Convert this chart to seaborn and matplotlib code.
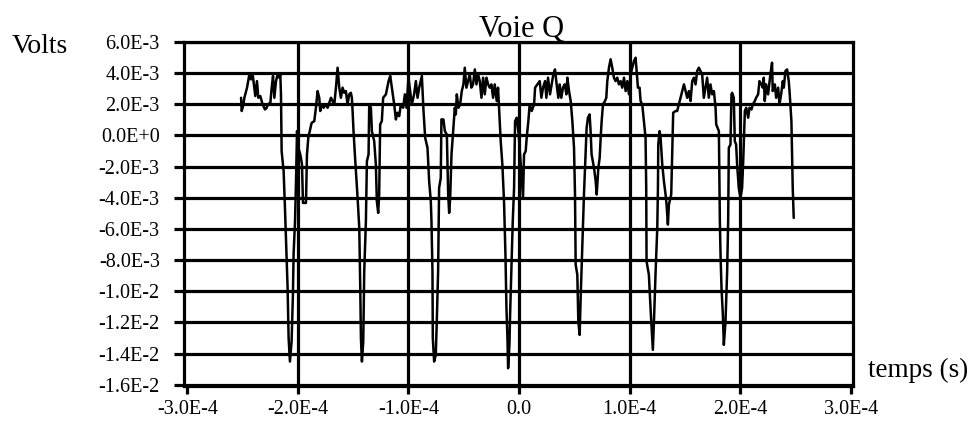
import numpy as np
import pandas as pd
import matplotlib
matplotlib.use("Agg")
import matplotlib.pyplot as plt
import seaborn as sns

# Signal: (time in 1e-4 s, voltage in 1e-3 V)
burst_1 = [(-2.514, 2.42), (-2.508, 1.57), (-2.493, 1.99), (-2.484, 2.42), (-2.460, 3.07), (-2.439, 3.92),
           (-2.424, 3.60), (-2.409, 3.92), (-2.394, 3.07), (-2.385, 2.53), (-2.370, 3.49), (-2.358, 2.42),
           (-2.340, 2.53), (-2.319, 1.99), (-2.298, 1.67), (-2.282, 1.78), (-2.273, 1.99), (-2.249, 2.10),
           (-2.237, 3.07), (-2.225, 3.82), (-2.213, 2.42), (-2.198, 3.49), (-2.183, 3.92), (-2.168, 3.71),
           (-2.159, 3.92), (-2.153, 2.64), (-2.147, -1.01), (-2.129, -2.29), (-2.117, -4.65), (-2.105, -7.22),
           (-2.093, -9.80), (-2.084, -13.01), (-2.072, -14.51), (-2.057, -13.23), (-2.045, -10.23),
           (-2.039, -7.65), (-2.026, -5.51), (-2.017, -2.94), (-2.008, 0.28), (-1.996, -0.79), (-1.978, -1.22),
           (-1.963, -1.86), (-1.954, -4.33), (-1.927, -4.33), (-1.918, -1.22), (-1.906, -0.15), (-1.876, 0.81),
           (-1.852, 0.92), (-1.837, 1.78), (-1.822, 2.85), (-1.807, 2.42), (-1.798, 1.57), (-1.786, 1.99),
           (-1.768, 1.78), (-1.746, 1.99), (-1.731, 1.78), (-1.701, 2.42)]
burst_2 = [(-1.671, 1.99), (-1.656, 3.07), (-1.641, 4.35), (-1.626, 3.07), (-1.611, 2.42), (-1.596, 3.07),
           (-1.581, 2.74), (-1.566, 2.85), (-1.551, 1.99), (-1.536, 2.64), (-1.521, 2.74), (-1.512, 2.42),
           (-1.506, 1.67), (-1.497, 0.28), (-1.481, -1.65), (-1.460, -4.01), (-1.445, -5.94), (-1.436, -9.80),
           (-1.430, -13.01), (-1.421, -14.51), (-1.409, -13.23), (-1.400, -8.72), (-1.385, -5.51),
           (-1.376, -1.65), (-1.361, -1.22), (-1.355, 1.99), (-1.340, 1.78), (-1.331, 0.28), (-1.310, -0.36),
           (-1.295, -1.86), (-1.286, -4.22), (-1.274, -4.97), (-1.265, -3.79), (-1.256, 0.71), (-1.241, 0.92),
           (-1.229, 2.42), (-1.204, 2.64), (-1.180, 3.49), (-1.165, 3.82), (-1.150, 3.07), (-1.129, 1.99),
           (-1.114, 1.03), (-1.099, 1.46), (-1.084, 1.24), (-1.069, 1.99), (-1.048, 1.78), (-1.033, 2.64),
           (-1.018, 1.78), (-1.000, 3.71), (-0.985, 2.85), (-0.970, 1.99), (-0.949, 2.64), (-0.933, 3.49),
           (-0.918, 2.42), (-0.903, 3.07), (-0.879, 3.82), (-0.864, 1.57), (-0.849, -0.15), (-0.828, -0.79)]
burst_3 = [(-0.813, -2.94), (-0.798, -4.22), (-0.792, -5.51), (-0.783, -8.72), (-0.780, -13.01),
           (-0.768, -14.51), (-0.753, -14.08), (-0.744, -11.94), (-0.732, -8.72), (-0.723, -3.37),
           (-0.708, -2.72), (-0.702, 1.03), (-0.684, 1.03), (-0.671, 0.28), (-0.653, 0.06), (-0.641, -3.79),
           (-0.632, -4.97), (-0.623, -4.01), (-0.611, -1.22), (-0.596, 0.28), (-0.581, 1.78), (-0.572, 1.35),
           (-0.563, 2.64), (-0.548, 1.78), (-0.533, 1.99), (-0.518, 2.85), (-0.503, 3.28), (-0.491, 4.35),
           (-0.476, 3.07), (-0.461, 3.49), (-0.446, 3.92), (-0.431, 3.07), (-0.416, 3.28), (-0.400, 4.24),
           (-0.385, 3.28), (-0.370, 3.92), (-0.355, 3.49), (-0.340, 2.42), (-0.325, 3.71), (-0.310, 2.64),
           (-0.295, 3.71), (-0.280, 3.28), (-0.265, 3.07), (-0.250, 3.28), (-0.235, 2.42), (-0.220, 3.28),
           (-0.202, 2.21), (-0.190, 3.07), (-0.178, 1.35), (-0.166, -0.36), (-0.151, -1.86), (-0.136, -4.22),
           (-0.123, -7.65), (-0.114, -11.08), (-0.105, -13.01), (-0.099, -14.94), (-0.087, -13.44),
           (-0.081, -11.51), (-0.069, -8.51), (-0.057, -5.51), (-0.045, -3.37), (-0.036, 0.92),
           (-0.021, 1.14), (-0.003, 0.06), (0.015, -1.86)]
burst_4 = [(0.036, -4.01), (0.045, -1.22), (0.060, -1.01), (0.069, -0.15), (0.084, 0.92), (0.096, 1.99),
           (0.114, 1.57), (0.136, 1.99), (0.145, 3.07), (0.166, 3.28), (0.187, 3.49), (0.202, 2.42),
           (0.217, 3.07), (0.235, 3.49), (0.247, 2.42), (0.262, 3.71), (0.280, 2.64), (0.295, 3.28),
           (0.310, 3.92), (0.325, 4.24), (0.340, 3.28), (0.355, 2.42), (0.367, 3.28), (0.382, 2.42),
           (0.397, 3.07), (0.413, 3.28), (0.428, 2.64), (0.437, 3.71), (0.452, 2.85), (0.467, 2.21),
           (0.482, 0.92), (0.497, -0.79), (0.506, -3.79), (0.512, -8.30), (0.527, -8.94), (0.536, -11.94),
           (0.548, -12.80), (0.557, -10.44), (0.572, -7.01), (0.587, -3.79), (0.602, -1.22), (0.611, 0.49),
           (0.623, 1.14), (0.638, 1.35), (0.647, 0.28), (0.656, -1.22), (0.678, -2.08), (0.693, -2.94),
           (0.702, -3.79), (0.717, -2.08), (0.729, -1.44), (0.738, -0.15), (0.747, 0.92), (0.759, 1.99),
           (0.777, 2.21), (0.789, 2.42), (0.798, 3.49), (0.813, 4.35), (0.828, 4.89), (0.843, 4.35),
           (0.858, 3.71), (0.873, 3.49)]
burst_5 = [(0.888, 3.71), (0.903, 3.28), (0.918, 3.49), (0.933, 3.07), (0.949, 3.71), (0.964, 2.85),
           (0.979, 3.49), (0.994, 2.64), (1.009, 3.92), (1.024, 4.35), (1.039, 4.78), (1.054, 4.99),
           (1.063, 4.14), (1.075, 3.07), (1.090, 3.07), (1.099, 2.21), (1.114, 1.99), (1.129, 0.92),
           (1.144, -0.15), (1.150, -3.37), (1.153, -8.08), (1.174, -8.94), (1.189, -11.08), (1.204, -13.01),
           (1.210, -13.76), (1.220, -11.94), (1.235, -8.72), (1.250, -5.94), (1.256, -3.37), (1.259, -0.58),
           (1.271, 0.28), (1.280, -0.15), (1.295, -1.86), (1.310, -2.94), (1.325, -3.79), (1.334, -4.44),
           (1.346, -5.72), (1.355, -4.44), (1.376, -3.79), (1.385, -1.22), (1.394, 1.46), (1.415, 1.57),
           (1.430, 1.57), (1.445, 1.99), (1.460, 2.42), (1.475, 2.85), (1.491, 3.28), (1.506, 2.85),
           (1.521, 2.42), (1.536, 2.85), (1.551, 2.21), (1.566, 3.49), (1.581, 3.71), (1.596, 3.28),
           (1.611, 4.14), (1.626, 4.35), (1.641, 4.14), (1.656, 3.92), (1.671, 2.42), (1.686, 3.07),
           (1.701, 3.71), (1.716, 2.42), (1.731, 3.28)]
burst_6 = [(1.746, 2.64), (1.762, 2.85), (1.771, 2.21), (1.777, 1.78), (1.783, 0.71), (1.807, 0.28),
           (1.816, -5.51), (1.822, -7.65), (1.831, -9.80), (1.843, -11.51), (1.852, -13.44), (1.867, -11.94),
           (1.882, -8.72), (1.891, -5.51), (1.897, -0.79), (1.912, -0.58), (1.921, 2.64), (1.927, 2.74),
           (1.942, 2.42), (1.951, -0.36), (1.963, -0.58), (1.972, -1.86), (1.987, -3.37), (2.002, -4.01),
           (2.017, -3.37), (2.026, -1.86), (2.042, 1.57), (2.054, 1.78), (2.072, 1.14), (2.084, 1.78),
           (2.102, 1.67), (2.114, 1.99), (2.132, 2.21), (2.144, 2.42), (2.162, 2.64), (2.174, 3.49),
           (2.192, 3.28), (2.204, 3.07), (2.213, 3.71), (2.222, 2.21), (2.234, 3.28), (2.252, 2.64),
           (2.273, 3.92), (2.288, 4.67), (2.294, 2.85), (2.313, 3.28), (2.325, 2.42), (2.343, 3.07),
           (2.355, 1.99), (2.370, 2.64), (2.385, 3.49), (2.394, 3.07), (2.409, 4.14), (2.424, 4.24),
           (2.439, 3.49), (2.448, 2.64), (2.463, 0.92), (2.469, -1.22), (2.475, -3.37), (2.484, -5.29)]

y_ticks = [-16e-3, -14e-3, -12e-3, -10e-3, -8e-3, -6e-3, -4e-3, -2e-3, 0.0, 2e-3, 4e-3, 6e-3]
y_tick_labels = ["-1.6E-2", "-1.4E-2", "-1.2E-2", "-1.0E-2", "-8.0E-3", "-6.0E-3",
                 "-4.0E-3", "-2.0E-3", "0.0E+0", "2.0E-3", "4.0E-3", "6.0E-3"]
x_ticks = [-3e-4, -2e-4, -1e-4, 0.0, 1e-4, 2e-4, 3e-4]
x_tick_labels = ["-3.0E-4", "-2.0E-4", "-1.0E-4", "0.0", "1.0E-4", "2.0E-4", "3.0E-4"]
x_grid = [-2e-4, -1e-4, 0.0, 1e-4, 2e-4]

title_text = "Voie Q"
y_unit = "Volts"
x_unit = "temps (s)"

pts = burst_1 + burst_2 + burst_3 + burst_4 + burst_5 + burst_6
df = pd.DataFrame({
    "t": [p[0] * 1e-4 for p in pts],
    "v": [p[1] * 1e-3 for p in pts],
})

sns.set_theme(style="white")
plt.rcParams["font.family"] = ["Liberation Serif", "DejaVu Serif"]

W, H = 973, 423
fig = plt.figure(figsize=(W / 100, H / 100), dpi=100)
left, right, top, bottom = 184, 853, 42, 386
ax = fig.add_axes([left / W, 1 - bottom / H, (right - left) / W, (bottom - top) / H])

sns.lineplot(data=df, x="t", y="v", sort=False, estimator=None, color="black",
             linewidth=1.8, ax=ax, zorder=3)

ax.set_xlim(-3.03e-4, 3.02e-4)
ax.set_ylim(-16.08e-3, 6.0e-3)
ax.set_xticks(x_ticks)
ax.set_xticklabels(x_tick_labels)
ax.set_yticks(y_ticks)
ax.set_yticklabels(y_tick_labels)
ax.set_xlabel("")
ax.set_ylabel("")

ax.grid(False)
for yv in y_ticks:
    ax.axhline(yv, color="black", linewidth=2.3, zorder=1)
for xv in x_grid:
    ax.axvline(xv, color="black", linewidth=2.3, zorder=1)

for s in ax.spines.values():
    s.set_visible(True)
    s.set_color("black")
    s.set_linewidth(2.3)

ax.tick_params(axis="y", direction="out", length=7.5, width=2.3, left=True, pad=10,
               labelsize=14.5, colors="black")
ax.tick_params(axis="x", direction="out", length=6, width=2.3, bottom=True, pad=4,
               labelsize=14.5, colors="black")

fig.text(522 / W, 1 - 37 / H, title_text, ha="center", va="baseline", fontsize=22, color="black")
fig.text(12 / W, 1 - 53 / H, y_unit, ha="left", va="baseline", fontsize=20, color="black")
fig.text(868 / W, 1 - 377 / H, x_unit, ha="left", va="baseline", fontsize=19.5, color="black")

fig.savefig("out.png", dpi=100)
